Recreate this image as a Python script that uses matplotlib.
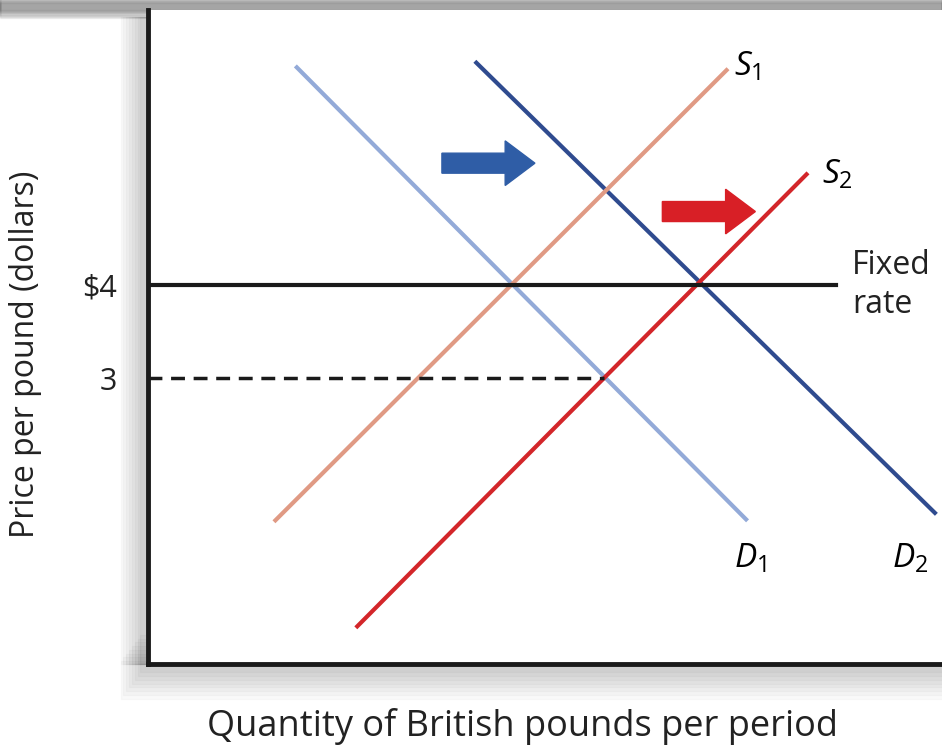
import matplotlib.pyplot as plt
from matplotlib.patches import Rectangle

plt.rcParams['font.family'] = ['Open Sans', 'DejaVu Sans']
plt.rcParams['mathtext.fontset'] = 'custom'
plt.rcParams['mathtext.it'] = 'Open Sans:italic'
plt.rcParams['mathtext.rm'] = 'Open Sans'

# curves: (quantity, price) end points
d1_q = [1.60, 6.43]
d1_p = [6.34, 1.48]
d2_q = [3.53, 8.46]
d2_p = [6.39, 1.55]
s1_q = [1.37, 6.22]
s1_p = [1.47, 6.31]
s2_q = [2.25, 7.08]
s2_p = [0.33, 5.19]

fixed_rate = 4
fixed_end = 7.40
market_rate = 3
market_q = 4.90

ytick_vals = [3, 4]
ytick_labels = ['3', '$4']

fig = plt.figure(figsize=(9.42, 7.53), dpi=100)

# soft drop shadow around the plot box (kept behind the axes)
for i in range(8):
    fig.patches.append(Rectangle((0, 0.987 - i * 0.0016), 1, 0.02, transform=fig.transFigure,
                                 color='k', alpha=0.05, zorder=0))
    fig.patches.append(Rectangle((0.128 + i * 0.003, 0.118), 0.05, 0.86, transform=fig.transFigure,
                                 color='k', alpha=0.025, zorder=0))
    fig.patches.append(Rectangle((0.128 + i * 0.003, 0.072 + i * 0.005), 0.9, 0.05,
                                 transform=fig.transFigure, color='k', alpha=0.022, zorder=0))

ax = fig.add_axes([148 / 942, 89 / 753, 812 / 942, 654 / 753])
ax.set_zorder(5)
ax.set_facecolor('white')
ax.set_xlim(0, 8.73)
ax.set_ylim(-0.075, 6.957)

ax.plot(d1_q, d1_p, color='#93aad8', lw=3)
ax.plot(d2_q, d2_p, color='#2f4b8f', lw=3)
ax.plot(s1_q, s1_p, color='#e09a84', lw=3)
ax.plot(s2_q, s2_p, color='#d3262a', lw=3)

ax.plot([0, fixed_end], [fixed_rate, fixed_rate], color='#1a1a1a', lw=3)
ax.plot([0, market_q], [market_rate, market_rate], color='#1a1a1a', lw=2.5,
        dashes=(4, 2.5))

ax.arrow(3.16, 5.31, 0.68, 0, width=0.215, head_width=0.48, head_length=0.32,
         color='#2f5da6', length_includes_head=False)
ax.arrow(5.53, 4.79, 0.68, 0, width=0.215, head_width=0.48, head_length=0.32,
         color='#d81f26', length_includes_head=False)

ax.text(6.30, 6.35, '$S_1$', fontsize=24, va='center', ha='left')
ax.text(7.25, 5.18, '$S_2$', fontsize=24, va='center', ha='left')
ax.text(6.30, 1.05, '$D_1$', fontsize=24, va='center', ha='left')
ax.text(8.00, 1.05, '$D_2$', fontsize=24, va='center', ha='left')
ax.text(7.57, 4.0, 'Fixed\nrate', fontsize=23, va='center', ha='left',
        color='#222222', linespacing=1.25)

ax.set_yticks(ytick_vals)
ax.set_yticklabels(ytick_labels, fontsize=22, color='#222222')
ax.tick_params(axis='y', length=0, pad=22)
ax.set_xticks([])

for side in ['top', 'right']:
    ax.spines[side].set_visible(False)
ax.spines['left'].set_linewidth(3.5)
ax.spines['bottom'].set_linewidth(3.5)
ax.spines['left'].set_color('#1a1a1a')
ax.spines['bottom'].set_color('#1a1a1a')

fig.text(0.555, 0.035, 'Quantity of British pounds per period', fontsize=26,
         ha='center', va='center', color='#222222')
fig.text(0.027, 0.53, 'Price per pound (dollars)', fontsize=23, rotation=90,
         ha='center', va='center', color='#222222')

fig.savefig('out.png', dpi=100, facecolor='white')
